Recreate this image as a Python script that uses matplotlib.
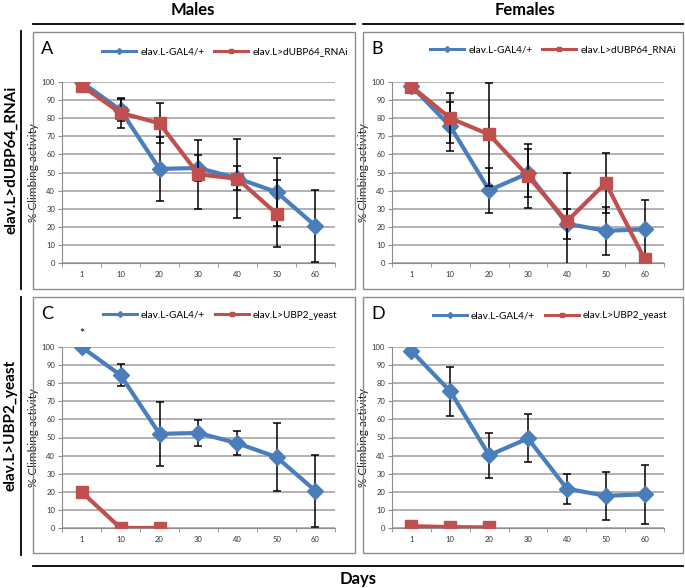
import numpy as np
import matplotlib.pyplot as plt
from matplotlib.lines import Line2D
from matplotlib.patches import Rectangle

plt.rcParams['font.family'] = ['Lato', 'DejaVu Sans']

days = ['1', '10', '20', '30', '40', '50', '60']

# males: control line is the same in A and C
male_ctrl = [100, 84.5, 52, 52.5, 46.8, 39.2, 20.5]
male_ctrl_err = [0, 6, 17.8, 7.1, 6.6, 18.7, 19.8]
male_rnai = [98, 83, 77.2, 49, 46.5, 27.3, np.nan]
male_rnai_err = [0, 8.4, 11, 19, 21.8, 18.5, 0]
male_yeast = [20, 0, 0, np.nan, np.nan, np.nan, np.nan]

# females: control line is the same in B and D
fem_ctrl = [97.8, 75.5, 40.2, 49.5, 21.7, 17.8, 18.6]
fem_ctrl_err = [0, 13.5, 12.4, 13.3, 8.3, 13.2, 16.2]
fem_rnai = [97.5, 80, 71, 48, 23, 44.2, 2.2]
fem_rnai_err = [0, 13.8, 28.3, 17.7, 26.5, 16.5, 2.5]
fem_yeast = [1, 0.5, 0.3, np.nan, np.nan, np.nan, np.nan]

ctrl_label = 'elav.L-GAL4/+'
rnai_label = 'elav.L>dUBP64_RNAi'
yeast_label = 'elav.L>UBP2_yeast'

BLUE = '#4a7ebb'
RED = '#c0504d'
W, H = 685, 588

fig = plt.figure(figsize=(W / 100, H / 100), dpi=100)


def fx(px):
    return px / W


def fy(py):
    return 1 - py / H


def panel(left, right, top, bottom, letter, ctrl, ctrl_err, mut, mut_err,
          mut_label, box, leg_c, star=False):
    ax = fig.add_axes([fx(left), fy(bottom), fx(right - left), (bottom - top) / H])
    x = np.arange(len(days))
    for vals, errs, col, mk, z in [(ctrl, ctrl_err, BLUE, 'D', 4),
                                    (mut, mut_err, RED, 's', 5)]:
        vals = np.asarray(vals, float)
        errs = np.asarray(errs, float)
        ok = (errs > 0) & ~np.isnan(vals)
        if ok.any():
            ax.errorbar(x[ok], vals[ok], yerr=errs[ok], fmt='none', ecolor='black',
                        elinewidth=1.1, capsize=3, capthick=1.1, zorder=z - 0.5)
        ax.plot(x, vals, color=col, lw=3, marker=mk, ms=8.5 if mk == 'D' else 8,
                zorder=z)
    ax.set_xlim(-0.5, 6.5)
    ax.set_ylim(0, 100)
    ax.set_yticks(range(0, 101, 10))
    ax.set_xticks(x)
    ax.set_xticklabels(days)
    ax.set_xticks(np.arange(-0.5, 7, 1), minor=True)
    ax.grid(axis='y', color='#9c9c9c', lw=1.1)
    ax.set_axisbelow(True)
    for s in ['top', 'right']:
        ax.spines[s].set_visible(False)
    for s in ['left', 'bottom']:
        ax.spines[s].set_color('#8c8c8c')
    ax.tick_params(axis='y', labelsize=5.5, length=3, color='#8c8c8c',
                   labelcolor='#333333', pad=2)
    ax.tick_params(axis='x', which='major', labelsize=5.5, length=0,
                   labelcolor='#333333', pad=6)
    ax.tick_params(axis='x', which='minor', length=3, color='#8c8c8c')
    ax.set_ylabel('% Climbing activity', fontsize=8.5, labelpad=2, color='#222222')
    if star:
        ax.annotate('*', xy=(0, 100), xytext=(0, 5), textcoords='offset points',
                    ha='center', va='bottom', fontsize=9, annotation_clip=False)

    handles = [Line2D([], [], color=BLUE, lw=2.2, marker='D', ms=3),
               Line2D([], [], color=RED, lw=2.2, marker='s', ms=3.5)]
    ax.legend(handles, [ctrl_label, mut_label], loc='center',
              bbox_to_anchor=(fx(leg_c[0]), fy(leg_c[1])),
              bbox_transform=fig.transFigure, ncol=2, frameon=False, fontsize=7.2,
              handlelength=3.4, handletextpad=0.4, columnspacing=1.0)

    x0, y0, x1, y1 = box
    fig.add_artist(Rectangle((fx(x0), fy(y1)), fx(x1 - x0), (y1 - y0) / H,
                             transform=fig.transFigure, fill=False,
                             ec='#8c8c8c', lw=1))
    fig.text(fx(x0 + 8), fy(y0 + 17), letter, fontsize=13, ha='left', va='center')
    return ax


panel(62, 335, 82, 263, 'A', male_ctrl, male_ctrl_err, male_rnai, male_rnai_err,
      rnai_label, (33, 32, 355, 289), (225, 52))
panel(392, 664, 82, 263, 'B', fem_ctrl, fem_ctrl_err, fem_rnai, fem_rnai_err,
      rnai_label, (363, 32, 683, 289), (553, 50))
panel(62, 335, 347, 528, 'C', male_ctrl, male_ctrl_err, male_yeast, [0] * 7,
      yeast_label, (33, 297, 355, 553), (220, 315), star=True)
panel(392, 664, 347, 528, 'D', fem_ctrl, fem_ctrl_err, fem_yeast, [0] * 7,
      yeast_label, (363, 297, 683, 553), (550, 316))

# column / row headers
fig.text(fx(193), fy(10), 'Males', ha='center', va='center', fontsize=12,
         fontweight='bold')
fig.text(fx(525), fy(10), 'Females', ha='center', va='center', fontsize=12,
         fontweight='bold')
fig.add_artist(Line2D([fx(33), fx(355)], [fy(24)] * 2, color='black', lw=1.3))
fig.add_artist(Line2D([fx(363), fx(683)], [fy(24)] * 2, color='black', lw=1.3))

fig.text(fx(11), fy(160), 'elav.L>dUBP64_RNAi', rotation=90, ha='center',
         va='center', fontsize=11, fontweight='bold')
fig.text(fx(11), fy(425), 'elav.L>UBP2_yeast', rotation=90, ha='center',
         va='center', fontsize=11, fontweight='bold')
fig.add_artist(Line2D([fx(21)] * 2, [fy(31), fy(289)], color='black', lw=1.3))
fig.add_artist(Line2D([fx(21)] * 2, [fy(297), fy(555)], color='black', lw=1.3))

fig.add_artist(Line2D([fx(33), fx(683)], [fy(566)] * 2, color='black', lw=1.3))
fig.text(fx(358), fy(579), 'Days', ha='center', va='center', fontsize=12,
         fontweight='bold')

fig.savefig('out.png', dpi=100)
